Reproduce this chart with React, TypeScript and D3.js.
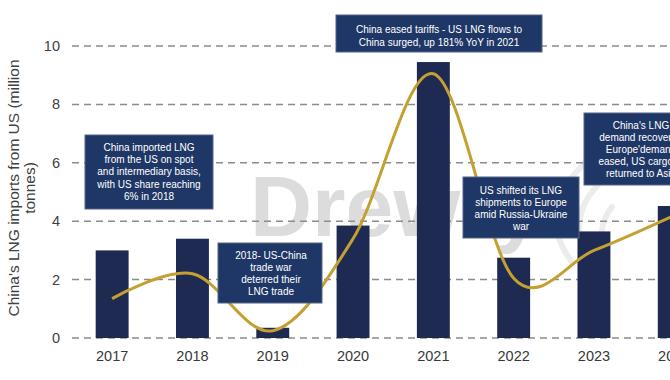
import React from "react";
import * as d3 from "d3";

const years = ["2017", "2018", "2019", "2020", "2021", "2022", "2023", "2024"];
const imports = [3.0, 3.4, 0.35, 3.85, 9.45, 2.75, 3.65, 4.52];
const trend = [1.35, 2.2, 0.25, 3.4, 9.05, 2.05, 3.0, 4.2];
const yTicks = [0, 2, 4, 6, 8, 10];
const yTitle = ["China's LNG imports from US (million", "tonnes)"];

type Note = { lines: string[]; x0: number; x1: number; y0: number; y1: number; cx: number; ty: number; lh: number };
const notes: Note[] = [
  { lines: ["China imported LNG", "from the US on spot", "and intermediary basis,", "with US share reaching", "6% in 2018"], x0: 85, x1: 213, y0: 135, y1: 209, cx: 149, ty: 147, lh: 12.4 },
  { lines: ["2018- US-China", "trade war", "deterred  their", "LNG trade"], x0: 218, x1: 322, y0: 243, y1: 303, cx: 271, ty: 255, lh: 12.3 },
  { lines: ["China eased tariffs - US LNG flows to", "China surged, up 181% YoY in 2021"], x0: 336, x1: 542, y0: 15, y1: 52, cx: 439, ty: 29, lh: 13 },
  { lines: ["US shifted its LNG", "shipments to Europe", "amid Russia-Ukraine", "war"], x0: 463, x1: 579, y0: 177, y1: 238, cx: 521, ty: 190, lh: 12.3 },
  { lines: ["China's LNG", "demand recovered", "Europe'demand", "eased, US cargoes", "returned to Asia"], x0: 584, x1: 700, y0: 113, y1: 185, cx: 641, ty: 125, lh: 12 },
];

export default function App() {
  const W = 670, H = 380;
  const x = d3.scaleBand<string>().domain(years).range([72, 72 + 8 * 80.3]).paddingInner(0.59).paddingOuter(0.295);
  const y = d3.scaleLinear().domain([0, 10]).range([338, 46]);
  const cx = (i: number) => (x(years[i]) as number) + x.bandwidth() / 2;
  const line = d3
    .line<number>()
    .x((_, i) => cx(i))
    .y((d) => y(d))
    .curve(d3.curveCatmullRom.alpha(0));
  const font = "Arial, 'Liberation Sans', Helvetica, sans-serif";

  return (
    <svg width={W} height={H} style={{ position: "fixed", left: 0, top: 0, background: "#fff" }} fontFamily={font}>
      <rect width={W} height={H} fill="#fff" />
      {/* watermark */}
      <text x={250} y={236} fontSize={86} fontWeight="bold" fill="#dcdcdc">Drewry</text>
      <g fill="none" stroke="#ececec" strokeWidth={6} strokeLinecap="round">
        <path d="M572,262 C545,228 556,192 582,166 C597,151 596,140 590,128" />
        <path d="M590,258 C572,232 578,207 596,187 C608,174 606,162 602,154" />
        <path d="M606,252 C598,234 602,220 612,207" />
      </g>
      {/* grid */}
      <g>
        {yTicks.map((t) => (
          <line key={t} x1={72} x2={W} y1={y(t)} y2={y(t)} stroke="#8c8c8c" strokeWidth={1.5} strokeDasharray="7,5" />
        ))}
        {yTicks.map((t) => (
          <text key={"l" + t} x={60} y={y(t)} dy="0.35em" textAnchor="end" fontSize={14.5} fill="#404040">{t}</text>
        ))}
      </g>
      {/* y title */}
      {yTitle.map((s, i) => (
        <text key={s} transform={`translate(${13 + i * 16},188) rotate(-90)`} textAnchor="middle" dominantBaseline="central" fontSize={15.5} fill="#404040">{s}</text>
      ))}
      {/* bars */}
      {imports.map((v, i) => (
        <rect key={years[i]} x={x(years[i])} y={y(v)} width={x.bandwidth()} height={y(0) - y(v)} fill="#1f2a52" />
      ))}
      {/* x labels */}
      {years.map((yr, i) => (
        <text key={"x" + yr} x={cx(i)} y={361} textAnchor="middle" fontSize={14.5} fill="#383838">{yr}</text>
      ))}
      {/* trend line */}
      <path d={line(trend) || ""} fill="none" stroke="#c4a030" strokeWidth={3} />
      {/* annotation boxes */}
      {notes.map((n, k) => (
        <g key={k}>
          <rect x={n.x0} y={n.y0} width={n.x1 - n.x0} height={n.y1 - n.y0} fill="#1f3766" stroke="#56648a" strokeWidth={1} />
          {n.lines.map((s, j) => (
            <text key={j} x={n.cx} y={n.ty + j * n.lh} dy="0.35em" textAnchor="middle" fontSize={10} fill="#ffffff">{s}</text>
          ))}
        </g>
      ))}
    </svg>
  );
}
